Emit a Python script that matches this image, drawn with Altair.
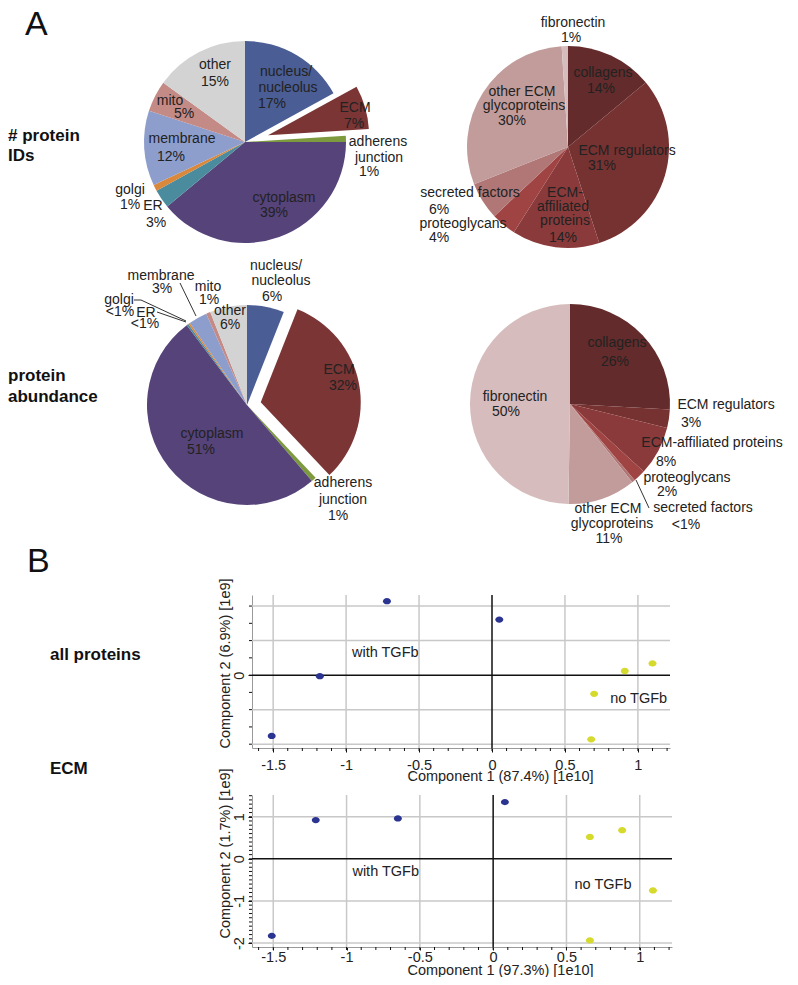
import math
import altair as alt
import pandas as pd

FONT = "Liberation Sans"
TXT = "#222222"

# ---------------- data ----------------
loc_cats = ["nucleus/nucleolus", "ECM", "adherens junction", "cytoplasm", "ER",
            "golgi", "membrane", "mito", "other"]
ids_loc_vals = [17, 7, 1, 39, 3, 1, 12, 5, 15]
abund_loc_vals = [6, 32, 0.8, 51, 0.3, 0.3, 3, 0.7, 6]

ecm_cats = ["collagens", "ECM regulators", "ECM-affiliated proteins", "proteoglycans",
            "secreted factors", "other ECM glycoproteins", "fibronectin"]
ids_ecm_vals = [14, 31, 14, 4, 6, 30, 1]
abund_ecm_vals = [26, 3, 8, 2, 0.5, 11, 50]

loc_colors = ["#4a5d94", "#7b3535", "#7d9a3e", "#56437a", "#4a8c9e",
              "#d9883c", "#8d9dcc", "#c48a86", "#d3d3d3"]
ecm_colors = ["#632b2b", "#763131", "#8a3a3a", "#a04343",
              "#b07776", "#c19c9b", "#d6bcbc"]

# PCA scores (x in 1e10, y in 1e9)
all_x = [-0.72, 0.05, -1.18, -1.51, 0.91, 1.10, 0.70, 0.68]
all_y = [2.14, 1.61, -0.03, -1.76, 0.12, 0.34, -0.54, -1.86]
all_g = ["with", "with", "with", "with", "no", "no", "no", "no"]
ecm_x = [0.08, -1.21, -0.65, -1.51, 0.66, 0.88, 1.09, 0.66]
ecm_y = [1.35, 0.92, 0.96, -1.83, 0.52, 0.68, -0.75, -1.94]
ecm_g = ["with", "with", "with", "with", "no", "no", "no", "no"]

x_major = [-1.5, -1, -0.5, 0, 0.5, 1]
x_minor = [round(-1.6 + 0.1 * i, 1) for i in range(29)]
s1_y_grid = [-2, -1, 1, 2]
s1_y_labels = [0]
s1_y_minor = [-2, -1.5, -1, -0.5, 0, 0.5, 1, 1.5, 2]
s2_y_grid = [-2, -1, 1]
s2_y_labels = [-2, -1, 0, 1]
s2_y_minor = [round(-2.0 + 0.1 * i, 1) for i in range(36)]

# ---------------- layout (page pixels) ----------------
OX, OY = 252, 8          # page position of the column origin


def rx(x):
    return x - OX


def ry(y):
    return y - OY


# pie label lines: (text, page x, page y)
lab_p1 = [("other", 215, 65), ("15%", 215, 82),
          ("nucleus/", 286, 72), ("nucleolus", 288, 88), ("17%", 272, 104),
          ("ECM", 355, 108), ("7%", 354, 124),
          ("adherens", 378, 142), ("junction", 379, 158), ("1%", 369, 172),
          ("cytoplasm", 284, 198), ("39%", 274, 213),
          ("membrane", 182, 139), ("12%", 171, 157),
          ("mito", 170, 101), ("5%", 184, 114),
          ("golgi", 130, 190), ("1%", 130, 205),
          ("ER", 153, 206), ("3%", 156, 223)]
lab_p2 = [("fibronectin", 573, 23), ("1%", 571, 38),
          ("collagens", 603, 73), ("14%", 601, 89),
          ("other ECM", 522, 92), ("glycoproteins", 524, 106), ("30%", 512, 121),
          ("ECM regulators", 627, 151), ("31%", 602, 166),
          ("ECM-", 565, 193), ("affiliated", 563, 207), ("proteins", 565, 221), ("14%", 563, 238),
          ("secreted factors", 470, 193), ("6%", 439, 210),
          ("proteoglycans", 463, 224), ("4%", 439, 238)]
lab_p3 = [("nucleus/", 276, 266), ("nucleolus", 281, 281), ("6%", 272, 297),
          ("ECM", 339, 370), ("32%", 343, 386),
          ("adherens", 343, 483), ("junction", 343, 500), ("1%", 338, 516),
          ("cytoplasm", 212, 434), ("51%", 201, 450),
          ("other", 230, 311), ("6%", 230, 325),
          ("mito", 208, 287), ("1%", 209, 300),
          ("membrane", 161, 276), ("3%", 162, 289),
          ("golgi", 119, 300), ("<1%", 120, 312),
          ("ER", 146, 313), ("<1%", 145, 324)]
lab_p4 = [("collagens", 617, 343), ("26%", 615, 362),
          ("fibronectin", 515, 397), ("50%", 506, 412),
          ("ECM regulators", 726, 405), ("3%", 691, 423),
          ("ECM-affiliated proteins", 712, 443), ("8%", 666, 462),
          ("proteoglycans", 687, 478), ("2%", 667, 492),
          ("secreted factors", 703, 508), ("<1%", 686, 525),
          ("other ECM", 608, 509), ("glycoproteins", 612, 524), ("11%", 609, 539)]
leaders = [(134, 300, 141, 300), (141, 300, 186, 321), (157, 312, 186, 322),
           (180, 283, 196, 316), (636, 480, 649, 508)]

all_cats = loc_cats + ecm_cats
all_cols = loc_colors + ecm_colors
color_enc = alt.Color("cat:N", scale=alt.Scale(domain=all_cats, range=all_cols), legend=None)
theta_scale = alt.Scale(domain=[0, 100])


def pie_layers(cats, vals, cx, cy, r, explode=None, dist=0):
    total = float(sum(vals))
    starts, ends, acc = [], [], 0.0
    for v in vals:
        starts.append(acc / total * 100)
        acc += v
        ends.append(acc / total * 100)
    df = pd.DataFrame({"cat": cats, "val": vals, "start": starts, "end": ends})
    layers = []
    main = df[df["cat"] != explode]
    layers.append(alt.Chart(main).mark_arc(outerRadius=r).encode(
        theta=alt.Theta("start:Q", scale=theta_scale), theta2="end:Q",
        color=color_enc, x=alt.value(rx(cx)), y=alt.value(ry(cy))))
    if explode is not None:
        ex = df[df["cat"] == explode]
        mid = (ex["start"].iloc[0] + ex["end"].iloc[0]) / 200 * 2 * math.pi
        dx, dy = dist * math.sin(mid), -dist * math.cos(mid)
        layers.append(alt.Chart(ex).mark_arc(outerRadius=r).encode(
            theta=alt.Theta("start:Q", scale=theta_scale), theta2="end:Q",
            color=color_enc, x=alt.value(rx(cx) + dx), y=alt.value(ry(cy) + dy)))
    return layers


def text_df(items):
    return pd.DataFrame({"t": [a for a, _, _ in items],
                         "x": [rx(b) for _, b, _ in items],
                         "y": [ry(c) for _, _, c in items]})


pie_layers_all = []
pie_layers_all += pie_layers(loc_cats, ids_loc_vals, 245, 142, 101, "ECM", 24)
pie_layers_all += pie_layers(ecm_cats, ids_ecm_vals, 568, 147, 101)
pie_layers_all += pie_layers(loc_cats, abund_loc_vals, 247, 405, 100, "ECM", 14)
pie_layers_all += pie_layers(ecm_cats, abund_ecm_vals, 570, 404, 100)

lead_df = pd.DataFrame({"x": [rx(a) for a, _, _, _ in leaders], "y": [ry(b) for _, b, _, _ in leaders],
                        "x2": [rx(c) for _, _, c, _ in leaders], "y2": [ry(d) for _, _, _, d in leaders]})
lead_layer = alt.Chart(lead_df).mark_rule(color="#333333", strokeWidth=1).encode(
    x=alt.X("x:Q", scale=None, axis=None), y=alt.Y("y:Q", scale=None, axis=None),
    x2="x2:Q", y2="y2:Q")

lab_layer = alt.Chart(text_df(lab_p1 + lab_p2 + lab_p3 + lab_p4)).mark_text(
    font=FONT, fontSize=14, color=TXT, align="center", baseline="middle").encode(
    x=alt.X("x:Q", scale=None, axis=None), y=alt.Y("y:Q", scale=None, axis=None), text="t:N")

row_titles = [("# protein", 8, 136), ("IDs", 8, 156), ("protein", 8, 376), ("abundance", 8, 397)]
row_layer = alt.Chart(text_df(row_titles)).mark_text(
    font=FONT, fontSize=17, fontWeight="bold", color="#111111", align="left", baseline="middle").encode(
    x=alt.X("x:Q", scale=None, axis=None), y=alt.Y("y:Q", scale=None, axis=None), text="t:N")

# panel letters, alphabetic baseline (page y of baseline)
panel_letters = [("A", 25, 35), ("B", 27, 572)]
letter_layer = alt.Chart(text_df(panel_letters)).mark_text(
    font=FONT, fontSize=34, color="#111111", align="left", baseline="alphabetic").encode(
    x=alt.X("x:Q", scale=None, axis=None), y=alt.Y("y:Q", scale=None, axis=None), text="t:N")

pies = alt.layer(*pie_layers_all, lead_layer, lab_layer, row_layer, letter_layer).properties(
    width=420, height=540)

# ---------------- scatter plots ----------------
XDOM = [-1.645, 1.22]
ELLIPSE = "M -1 0 A 1 0.78 0 1 0 1 0 A 1 0.78 0 1 0 -1 0 Z"
GRID = "#c8c8c8"


def scatter(xs, ys, gs, xtitle, ytitle, ydom, ygrid, ylabels, yminor, w, h,
            xlabpad, xtick, xtitle_y, ytitle_y, ann, side, side_y):
    df = pd.DataFrame({"x": xs, "y": ys, "g": gs})
    xs_ = alt.Scale(domain=XDOM, nice=False, zero=False)
    ys_ = alt.Scale(domain=ydom, nice=False, zero=False)
    xaxis = alt.Axis(values=x_major, labelExpr="'' + datum.value", grid=False,
                     tickColor="#111111", tickSize=xtick, tickWidth=1,
                     domainColor="#9a9a9a", domainWidth=1,
                     labelFont=FONT, labelFontSize=14.5, labelColor=TXT, labelPadding=xlabpad,
                     labelOverlap=False, labelFlush=False, labelBound=False,
                     title=xtitle, titleFont=FONT, titleFontSize=14.5, titleFontWeight="normal",
                     titleColor=TXT, titleX=248, titleY=xtitle_y, titleAlign="center",
                     titleBaseline="alphabetic")
    yaxis = alt.Axis(values=ylabels, labelExpr="'' + datum.value", grid=False,
                     tickColor="#111111", tickSize=4, tickWidth=1,
                     domainColor="#9a9a9a", domainWidth=1,
                     labelFont=FONT, labelFontSize=14.5, labelColor=TXT, labelAngle=270,
                     labelPadding=2, labelOverlap=False, labelFlush=False, labelBound=False,
                     title=ytitle, titleFont=FONT, titleFontSize=14.5, titleFontWeight="normal",
                     titleColor=TXT, titleX=-27, titleY=ytitle_y, titleAlign="left",
                     titleAngle=270, titleBaseline="middle")

    def X(f):
        return alt.X(f, scale=xs_, axis=xaxis)

    def Y(f):
        return alt.Y(f, scale=ys_, axis=yaxis)

    xg = alt.Chart(pd.DataFrame({"v": [v for v in x_major if v != 0]})).mark_rule(
        color=GRID, strokeWidth=1.5).encode(x=X("v:Q"))
    yg = alt.Chart(pd.DataFrame({"v": ygrid})).mark_rule(
        color=GRID, strokeWidth=1.5).encode(y=Y("v:Q"))
    xm = alt.Chart(pd.DataFrame({"v": x_minor})).mark_rule(
        color="#111111", strokeWidth=1).encode(x=X("v:Q"), y=alt.value(h), y2=alt.value(h + 3))
    ym = alt.Chart(pd.DataFrame({"v": yminor})).mark_rule(
        color="#111111", strokeWidth=1).encode(y=Y("v:Q"), x=alt.value(0), x2=alt.value(-3))

    z0 = pd.DataFrame({"v": [0]})
    hz = alt.Chart(z0).mark_rule(color="#111111", strokeWidth=1.5).encode(y=Y("v:Q"))
    vz = alt.Chart(z0).mark_rule(color="#111111", strokeWidth=1.5).encode(x=X("v:Q"))

    pts = alt.Chart(df).mark_point(filled=True, shape=ELLIPSE, size=64, opacity=1).encode(
        x=X("x:Q"), y=Y("y:Q"),
        color=alt.Color("g:N", scale=alt.Scale(domain=["with", "no"], range=["#2b3591", "#d5da2c"]),
                        legend=None))
    ann_df = pd.DataFrame({"t": [a for a, _, _ in ann], "x": [b for _, b, _ in ann],
                           "y": [c for _, _, c in ann]})
    ann_l = alt.Chart(ann_df).mark_text(font=FONT, fontSize=14.5, color=TXT, align="left",
                                        baseline="middle").encode(
        x=X("x:Q"), y=Y("y:Q"), text="t:N")
    side_l = alt.Chart(pd.DataFrame({"t": [side]})).mark_text(
        font=FONT, fontSize=17, fontWeight="bold", color="#111111", align="left",
        baseline="middle").encode(x=alt.value(rx(50)), y=alt.value(side_y), text="t:N")
    return alt.layer(xg, yg, xm, ym, hz, vz, pts, ann_l, side_l).properties(width=w, height=h)


s1 = scatter(all_x, all_y, all_g, "Component 1 (87.4%) [1e10]", "Component 2 (6.9%) [1e9]",
             [-2.11, 2.32], s1_y_grid, s1_y_labels, s1_y_minor, 418, 153, 6, 4, 32, 153,
             [("with TGFb", -0.96, 0.64), ("no TGFb", 0.81, -0.70)], "all proteins", 655 - 595)
s2 = scatter(ecm_x, ecm_y, ecm_g, "Component 1 (97.3%) [1e10]", "Component 2 (1.7%) [1e9]",
             [-2.095, 1.517], s2_y_grid, s2_y_labels, s2_y_minor, 420, 152, 0, 3, 27, 143,
             [("with TGFb", -0.96, -0.31), ("no TGFb", 0.555, -0.63)], "ECM", 769 - 795)

chart = alt.vconcat(pies, s1, s2, spacing=47, bounds="flush").resolve_scale(
    color="independent").properties(padding=0).configure_view(stroke=None)

chart.save("out.html", embed_options={"renderer": "svg", "actions": False})
